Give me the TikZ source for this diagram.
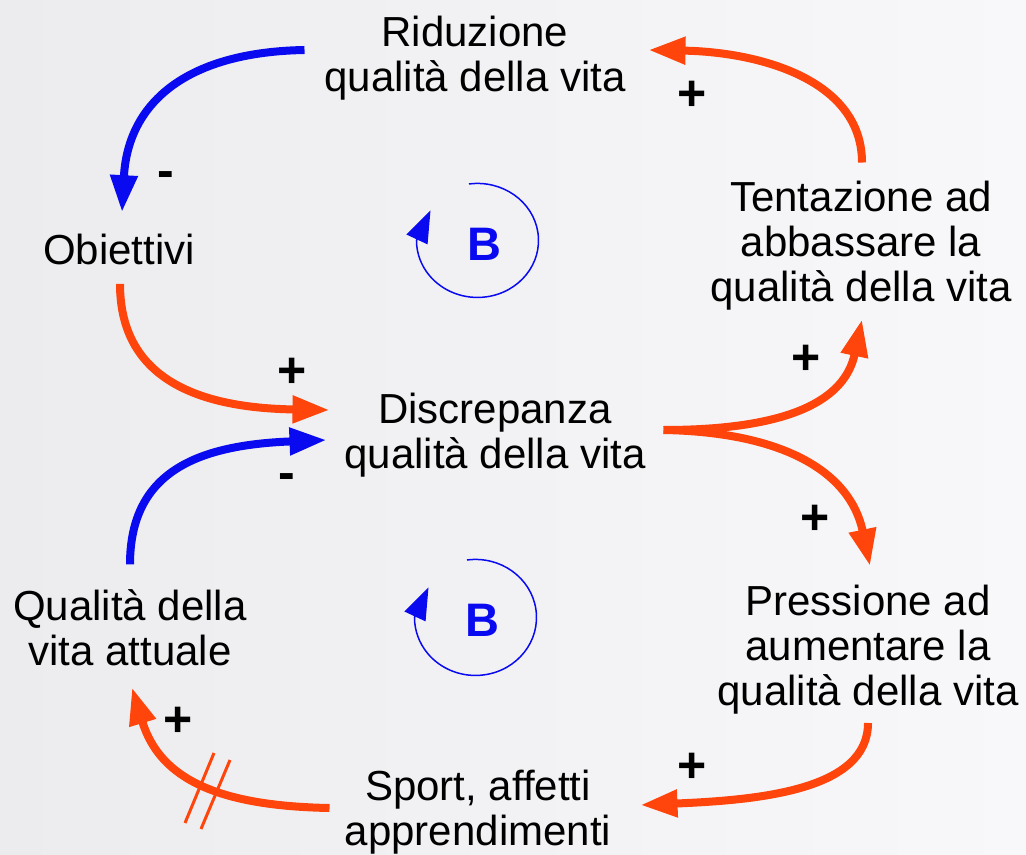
\documentclass[tikz,border=0pt]{standalone}
\usepackage{fontspec}
\setmainfont{Liberation Sans}
\usetikzlibrary{arrows.meta}
\definecolor{cred}{RGB}{255,68,12}
\definecolor{cblue}{RGB}{10,10,240}
\definecolor{bgl}{RGB}{236,236,238}
\definecolor{bgr}{RGB}{248,248,250}
\begin{document}
\begin{tikzpicture}[x=0.5pt,y=-0.5pt,
  txt/.style={inner sep=0pt, align=center, font=\fontsize{21pt}{22.5pt}\selectfont},
  sgn/.style={inner sep=0pt, font=\bfseries\fontsize{25pt}{25pt}\selectfont},
  bigarrow/.style={line width=4pt, -{Triangle[length=18.5pt,width=13pt]}},
  redarrow/.style={bigarrow, draw=cred},
  bluearrow/.style={bigarrow, draw=cblue},
  loopline/.style={draw=cblue, line width=0.75pt, -{Triangle[length=16pt,width=11.5pt]}},
  loopname/.style={inner sep=0pt, text=cblue, font=\bfseries\fontsize{23.5pt}{24pt}\selectfont}]
\useasboundingbox (0,0) rectangle (1026,855);
\shade[left color=bgl, right color=bgr] (0,0) rectangle (1026,855);

% nodes
\node[txt] (rid) at (475,58) {Riduzione\\qualità della vita};
\node[txt] (obi) at (119,249) {Obiettivi};
\node[txt] (ten) at (861,246) {Tentazione ad\\abbassare la\\qualità della vita};
\node[txt] (dis) at (495,435) {Discrepanza\\qualità della vita};
\node[txt] (qual) at (130,628) {Qualità della\\vita attuale};
\node[txt] (pre) at (868,650) {Pressione ad\\aumentare la\\qualità della vita};
\node[txt] (spo) at (478,812) {Sport, affetti\\apprendimenti};

\node[loopname] (b1) at (484,244) {B};
\node[loopname] (b2) at (482,620) {B};

% connectors
\draw[bluearrow] ([shift={(-19.5,-8)}]rid.west) .. controls (190,52) and (128,100) .. ([shift={(3,-21)}]obi.north);
\draw[redarrow] ([shift={(1,19)}]obi.south) .. controls (120,380) and (200,408) .. ([shift={(-14.5,-25)}]dis.west);
\draw[bluearrow] ([shift={(0,-25)}]qual.north) .. controls (130,470) and (200,445) .. ([shift={(-17.5,5)}]dis.west);
\draw[redarrow] ([shift={(17.5,-5)}]dis.east) .. controls (790,430) and (845,400) .. ([shift={(1,8.5)}]ten.south);
\draw[redarrow] ([shift={(17.5,-5)}]dis.east) .. controls (780,432) and (850,470) .. ([shift={(2,-19)}]pre.north);
\draw[redarrow] ([shift={(1,-18.5)}]ten.north) .. controls (862,80) and (760,52) .. ([shift={(22.5,-8)}]rid.east);
\draw[redarrow] ([shift={(0,8)}]pre.south) .. controls (868,790) and (760,800) .. ([shift={(29,-7)}]spo.east);
\draw[redarrow] ([shift={(-15,-4)}]spo.west) .. controls (220,806) and (160,780) .. ([shift={(2,21)}]qual.south);

% delay mark
\draw[cred, line width=1.5pt] (214,753) -- (185,823);
\draw[cred, line width=1.5pt] (230,760) -- (201,829);

% loop symbols
\draw[loopline] (b1) ++(-15,-60) arc[start angle=-98, end angle=180, x radius=61, y radius=57] -- ++(14,-30);
\draw[loopline] (b2) ++(-15,-60) arc[start angle=-98, end angle=180, x radius=61, y radius=58] -- ++(14,-30);

% polarity signs
\node[sgn] (s1) at (166,180) {-};
\node[sgn] (s2) at (292,373) {+};
\node[sgn] (s3) at (287,482) {-};
\node[sgn] (s4) at (692,96) {+};
\node[sgn] (s5) at (806,360) {+};
\node[sgn] (s6) at (815,520) {+};
\node[sgn] (s7) at (692,768) {+};
\node[sgn] (s8) at (178,722) {+};
\end{tikzpicture}
\end{document}
